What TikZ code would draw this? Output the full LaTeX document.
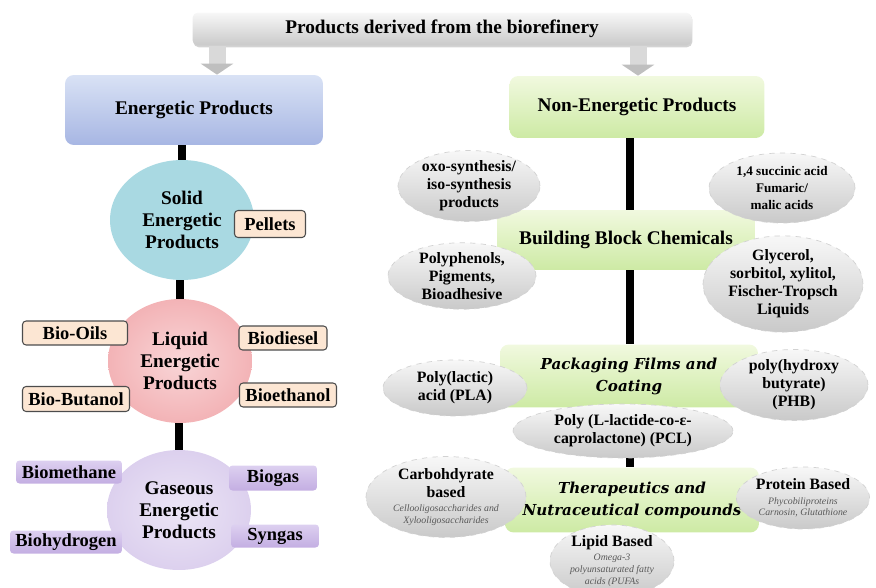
\documentclass[tikz,border=0pt]{standalone}
\usepackage{fontspec}
\setmainfont{Liberation Serif}
\newfontfamily\boldslant{DejaVu Serif}
\usetikzlibrary{shapes.geometric,arrows.meta,shadows,backgrounds}

\definecolor{bluetop}{HTML}{D9E2F5}
\definecolor{bluebot}{HTML}{A7B6E3}
\definecolor{greentop}{HTML}{F1F9DF}
\definecolor{greenbot}{HTML}{CDEAA4}
\definecolor{solidfill}{HTML}{A9D9E2}
\definecolor{liquidfill}{HTML}{F3B3B6}
\definecolor{gasfill}{HTML}{DCD0EE}
\definecolor{peachfill}{HTML}{FCE6D3}
\definecolor{lilactop}{HTML}{DDD0F0}
\definecolor{lilacbot}{HTML}{C3AEE2}

% small italic lines under an item title
\newcommand\subnote[1]{{\itshape\mdseries\fontsize{5.6}{6.6}\selectfont\color{gray!70!black}#1}}

\tikzset{
    mainbox/.style={rectangle, rounded corners=5pt, inner sep=0pt, align=center,
        font=\bfseries\fontsize{11}{13}\selectfont},
    headbox/.style={mainbox, rounded corners=3pt, top color=gray!6, bottom color=gray!42,
        drop shadow={opacity=0.35, shadow xshift=0.5pt, shadow yshift=-1pt}},
    bluebox/.style={mainbox, top color=bluetop, bottom color=bluebot},
    greenbox/.style={mainbox, top color=greentop, bottom color=greenbot},
    slanted/.style={font=\boldslant\bfseries\itshape\fontsize{8.6}{12.5}\selectfont},
    phase/.style={ellipse, inner sep=0pt, minimum width=2.88cm, minimum height=2.4cm,
        align=center, font=\bfseries\fontsize{11}{12.5}\selectfont},
    tag/.style={rectangle, rounded corners=2pt, inner sep=0pt,
        font=\bfseries\fontsize{10.5}{12}\selectfont},
    peachtag/.style={tag, fill=peachfill, draw=gray!60!black, line width=0.6pt},
    lilactag/.style={tag, top color=lilactop, bottom color=lilacbot},
    item/.style={ellipse, inner sep=0pt, align=center, draw=gray!35, dashed,
        top color=gray!6, bottom color=gray!42,
        font=\bfseries\fontsize{9}{10.2}\selectfont},
    link/.style={line width=4pt, line cap=butt},
    feed/.style={line width=0.34cm, draw=gray!30,
        -{Triangle[width=0.64cm,length=0.22cm,color=gray!50]}},
}

\begin{document}
\begin{tikzpicture}[x=0.02cm, y=-0.02cm]
    \useasboundingbox (0,0) rectangle (876,588);

    % Top: the biorefinery products
    \node [headbox, minimum width=9.98cm, minimum height=0.66cm] (top) at (442,29)
        {Products derived from the biorefinery};

    % Left: energetic products
    \node [bluebox, minimum width=5.16cm, minimum height=1.4cm] (EP) at (194,110) {Energetic Products};

    \node [phase, fill=solidfill] (solid) at (182,220) {Solid\\Energetic\\Products};
    \node [phase, inner color=liquidfill!55, outer color=liquidfill, minimum height=2.48cm] (liquid) at (180,361)
        {Liquid\\Energetic\\Products};
    \node [phase, inner color=gasfill!55, outer color=gasfill] (gas) at (179,510) {Gaseous\\Energetic\\Products};

    \node [peachtag, minimum width=1.42cm, minimum height=0.54cm] (pellets) at (270,224) {Pellets};
    \node [peachtag, minimum width=2.1cm, minimum height=0.48cm] (biooils) at (75,333) {Bio-Oils};
    \node [peachtag, minimum width=1.76cm, minimum height=0.48cm] (biodiesel) at (283,338) {Biodiesel};
    \node [peachtag, minimum width=2.14cm, minimum height=0.5cm] (biobutanol) at (76,399) {Bio-Butanol};
    \node [peachtag, minimum width=1.94cm, minimum height=0.48cm] (bioethanol) at (288,395) {Bioethanol};

    \node [lilactag, minimum width=2.12cm, minimum height=0.46cm] (biomethane) at (69,472) {Biomethane};
    \node [lilactag, minimum width=1.76cm, minimum height=0.5cm] (biogas) at (273,478) {Biogas};
    \node [lilactag, minimum width=2.24cm, minimum height=0.46cm] (biohydrogen) at (66,542) {Biohydrogen};
    \node [lilactag, minimum width=1.76cm, minimum height=0.46cm] (syngas) at (275,536) {Syngas};

    % Right: non-energetic products
    \node [greenbox, minimum width=5.1cm, minimum height=1.24cm] (NEP) at (637,107) {Non-Energetic Products};
    \node [greenbox, minimum width=5.16cm, minimum height=1.2cm] (BBC) at (626,240) {Building Block Chemicals};
    \node [greenbox, slanted, minimum width=5.16cm, minimum height=1.26cm]
        (PFC) at (629,376) {Packaging Films and\\Coating};
    \node [greenbox, slanted, minimum width=5.08cm, minimum height=1.3cm]
        (TNC) at (632,500) {Therapeutics and\\Nutraceutical compounds};

    \node [item, minimum width=2.84cm, minimum height=1.32cm] (oxo) at (469,186)
        {oxo-synthesis/\\iso-synthesis\\products};
    \node [item, minimum width=2.92cm, minimum height=1.4cm, font=\bfseries\fontsize{7.5}{9.5}\selectfont]
        (succinic) at (782,188) {1,4 succinic acid\\Fumaric/\\malic acids};
    \node [item, minimum width=2.96cm, minimum height=1.32cm] (phenols) at (462,276)
        {Polyphenols,\\Pigments,\\Bioadhesive};
    \node [item, minimum width=3.2cm, minimum height=1.64cm] (glycerol) at (783,284)
        {Glycerol,\\sorbitol, xylitol,\\Fischer-Tropsch\\Liquids};

    \node [item, minimum width=2.88cm, minimum height=1.12cm] (PLA) at (455,388) {Poly(lactic)\\acid (PLA)};
    \node [item, minimum width=2.96cm, minimum height=1.28cm] (PHB) at (794,385)
        {poly(hydroxy\\butyrate)\\(PHB)};
    \node [item, minimum width=4.4cm, minimum height=1.08cm] (PCL) at (623,431)
        {Poly (L-lactide-co-ε-\\caprolactone) (PCL)};

    \node [item, minimum width=3.2cm, minimum height=1.44cm] (carb) at (446,497)
        {Carbohdyrate\\based\\[-2pt]\subnote{Cellooligosaccharides and}\\[-3.5pt]\subnote{Xylooligosaccharides}};
    \node [item, minimum width=2.52cm, minimum height=1.24cm] (protein) at (803,498)
        {Protein Based\\[-2pt]\subnote{Phycobiliproteins}\\[-3.5pt]\subnote{Carnosin, Glutathione}};
    \node [item, minimum width=2.48cm, minimum height=1.24cm] (lipid) at (612,561)
        {Lipid Based\\[-2pt]\subnote{Omega-3}\\[-3.5pt]\subnote{polyunsaturated fatty}\\[-3.5pt]\subnote{acids (PUFAs}};

    % Arrows out of the top box
    \coordinate (leftfeed) at (217,0);
    \coordinate (rightfeed) at (638,0);
    \draw [feed] (top.south -| leftfeed) -- (EP.north -| leftfeed);
    \draw [feed] (top.south -| rightfeed) -- (NEP.north -| rightfeed);

    % Black spines, kept behind the shapes
    \begin{scope}[on background layer]
        \draw [link] (EP.south -| solid.north) -- (solid.north);
        \draw [link] (solid.south -| liquid.north) -- (liquid.north);
        \draw [link] (liquid.south -| gas.north) -- (gas.north);

        \coordinate (spine) at (630,0);
        \draw [link] (NEP.south -| spine) -- (BBC.north -| spine);
        \draw [link] (BBC.south -| spine) -- (PFC.north -| spine);
        \draw [link] (PFC.south -| spine) -- (TNC.north -| spine);
    \end{scope}

\end{tikzpicture}
\end{document}
